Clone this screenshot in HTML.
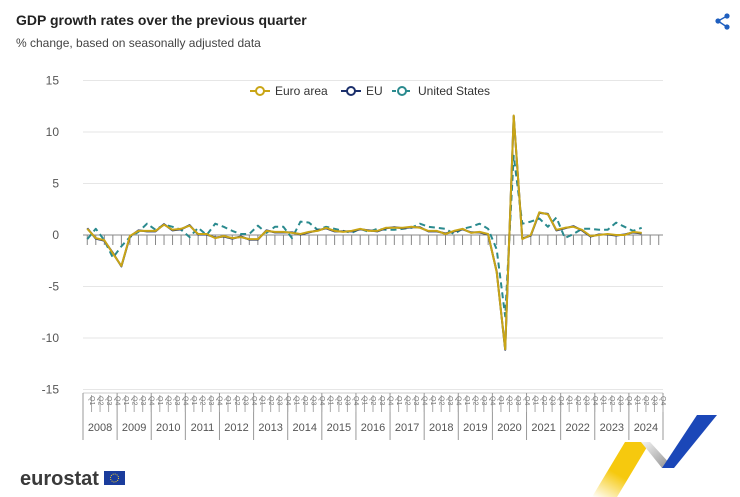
<!DOCTYPE html>
<html><head><meta charset="utf-8"><style>
body{margin:0;background:#fff;font-family:"Liberation Sans",sans-serif;}
#w{position:relative;width:740px;height:497px;overflow:hidden}
</style></head><body><div id="w">
<svg id="s" width="740" height="497" xmlns="http://www.w3.org/2000/svg" font-family="Liberation Sans, sans-serif">
<text x="16" y="25" font-size="14" font-weight="bold" fill="#222">GDP growth rates over the previous quarter</text>
<text x="16" y="47" font-size="12" fill="#444">% change, based on seasonally adjusted data</text>
<g fill="#1f5fbf"><circle cx="727" cy="16" r="2.6"/><circle cx="718" cy="21" r="2.6"/><circle cx="727" cy="27" r="2.6"/></g>
<path d="M727 16L718 21L727 27" stroke="#1f5fbf" stroke-width="1.4" fill="none"/>
<g id="grid"></g>
<g font-size="12" fill="#333">
<line x1="250" y1="91" x2="270" y2="91" stroke="#c9a516" stroke-width="2"/><circle cx="260" cy="91" r="4" fill="#fff" stroke="#c9a516" stroke-width="2"/><text x="275" y="95">Euro area</text>
<line x1="341" y1="91" x2="361" y2="91" stroke="#1b2f6b" stroke-width="2"/><circle cx="351" cy="91" r="4" fill="#fff" stroke="#1b2f6b" stroke-width="2"/><text x="366" y="95">EU</text>
<line x1="392" y1="91" x2="412" y2="91" stroke="#2a8a8e" stroke-width="2" stroke-dasharray="4,3"/><circle cx="402" cy="91" r="4" fill="#fff" stroke="#2a8a8e" stroke-width="2"/><text x="418" y="95">United States</text>
</g>
<g id="ser"></g>
<text x="20" y="485" font-size="20" font-weight="bold" fill="#3a3a3a">eurostat</text>
<rect x="104" y="471" width="21" height="14" fill="#1a3c9c"/>
<circle cx="114.5" cy="478" r="4" fill="none" stroke="#f3d02c" stroke-width="1" stroke-dasharray="1,1.1"/>
<defs><linearGradient id="gy" x1="0" y1="1" x2="0.6" y2="0"><stop offset="0" stop-color="#f6c90e" stop-opacity="0"/><stop offset="0.5" stop-color="#f6c90e"/></linearGradient>
<linearGradient id="gg" x1="0" y1="0" x2="1" y2="1"><stop offset="0" stop-color="#f4f4f4"/><stop offset="1" stop-color="#8e8e8e"/></linearGradient></defs>
<polygon points="592,497 625,442 650,442 617,497" fill="url(#gy)"/>
<polygon points="641,442 650,442 672,466 662,468" fill="url(#gg)"/>
<polygon points="662,468 697,415 717,415 674,468" fill="#1b47b8"/>
</svg>
<script>
var ns="http://www.w3.org/2000/svg";
function el(p,t,a,txt){var e=document.createElementNS(ns,t);for(var k in a)e.setAttribute(k,a[k]);if(txt!=null)e.textContent=txt;p.appendChild(e);return e;}
var g=document.getElementById('grid'),sr=document.getElementById('ser');
var X0=83,X1=663,Y=function(v){return 235-v*10.3};
[15,10,5,-5,-10,-15].forEach(function(v){el(g,'line',{x1:X0,x2:X1,y1:Y(v),y2:Y(v),stroke:'#e6e6e6'});});
[15,10,5,0,-5,-10,-15].forEach(function(v){el(g,'text',{x:59,y:Y(v)+4,'font-size':12,fill:'#555','text-anchor':'end'},v);});
el(g,'line',{x1:X0,x2:X1,y1:235,y2:235,stroke:'#888'});
var dq=(X1-X0)/68;
for(var i=0;i<68;i++){var x=X0+dq*(i+0.5);el(g,'line',{x1:x,x2:x,y1:235,y2:245,stroke:'#888'});}
el(g,'line',{x1:X0,x2:X1,y1:393,y2:393,stroke:'#ccc'});
for(var y=0;y<=17;y++){var x=X0+y*4*dq;el(g,'line',{x1:x,x2:x,y1:393,y2:440,stroke:'#999'});
 if(y<17)el(g,'text',{x:x+2*dq,y:431,'font-size':11,fill:'#555','text-anchor':'middle'},2008+y);}
for(var i=0;i<68;i++){var x=X0+dq*(i+0.5);el(g,'line',{x1:x+dq/2,x2:x+dq/2,y1:395,y2:412,stroke:'#aaa'});
 el(g,'text',{x:0,y:0,'font-size':7,fill:'#777',transform:'translate('+(x+2.5)+',396) rotate(90)'},'Q'+(i%4+1));}
var ea=[0.6,-0.3,-0.5,-1.8,-3.0,-0.1,0.4,0.4,0.4,1.0,0.5,0.6,0.9,0.1,0.1,-0.3,-0.1,-0.3,-0.2,-0.4,-0.4,0.4,0.3,0.3,0.2,0.1,0.3,0.4,0.7,0.4,0.3,0.4,0.6,0.4,0.4,0.7,0.7,0.7,0.8,0.7,0.4,0.4,0.1,0.4,0.6,0.2,0.3,0.1,-3.6,-11.1,11.6,-0.4,0.0,2.2,2.0,0.5,0.7,0.8,0.5,-0.1,0.0,0.1,0.0,0.0,0.3,0.2];
var eu=ea.map(function(v,i){return v+(i%3==0?0.05:-0.05)});
var us=[-0.4,0.6,-0.5,-2.2,-1.1,-0.2,0.3,1.1,0.5,1.0,0.8,0.5,-0.2,0.7,0.0,1.1,0.8,0.4,0.1,0.1,0.9,0.2,0.8,0.8,-0.3,1.3,1.2,0.5,0.8,0.6,0.4,0.2,0.6,0.3,0.6,0.5,0.5,0.6,0.7,1.1,0.8,0.7,0.6,0.1,0.6,0.8,1.1,0.6,-1.4,-7.9,7.7,1.1,1.3,1.6,0.8,1.7,-0.3,0.1,0.6,0.6,0.5,0.5,1.2,0.8,0.4,0.7];
function line(d,c,dash){var p=d.map(function(v,i){return (i?'L':'M')+(X0+dq*(i+0.5)).toFixed(1)+' '+Y(v).toFixed(1)}).join('');
 var a={d:p,fill:'none',stroke:c,'stroke-width':2,'stroke-linejoin':'round'};if(dash)a['stroke-dasharray']=dash;el(sr,'path',a);}
line(us,'#2a8a8e','6,4');line(eu,'#1b2f6b');line(ea,'#c9a516');
</script>
</div></body></html>
